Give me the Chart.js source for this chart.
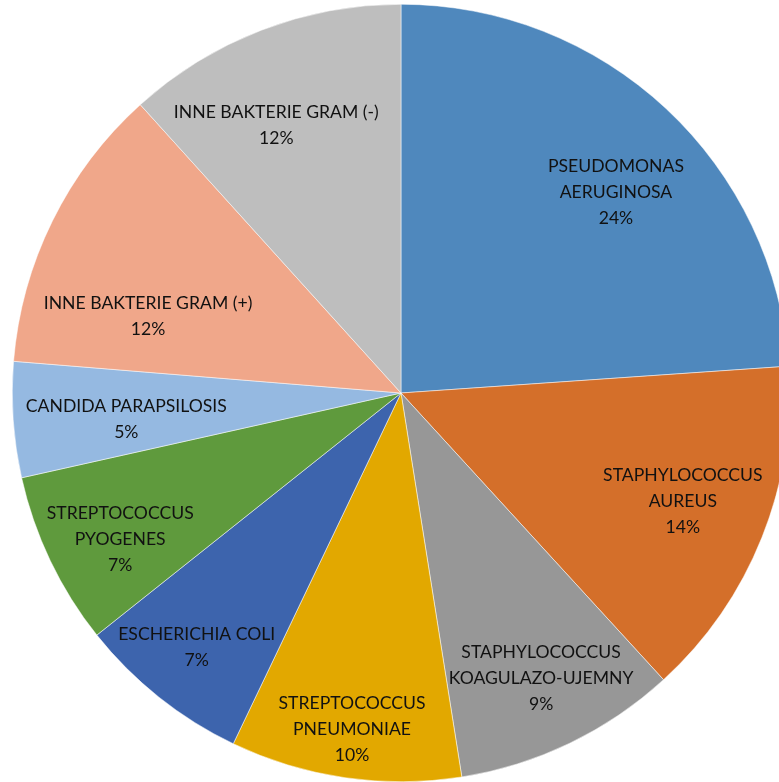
<!DOCTYPE html>
<html>
<head>
<meta charset="utf-8">
<script src="https://cdn.jsdelivr.net/npm/chart.js@4/dist/chart.umd.min.js"></script>
<style>
  html, body { margin: 0; padding: 0; background: #fff; overflow: hidden; }
  #wrap { position: absolute; left: 12px; top: 4px; width: 778px; height: 778px; }
</style>
</head>
<body>
<div id="wrap"><canvas id="chartPie"></canvas></div>
<script>
// Datos del gráfico
const categorias = [
  ['PSEUDOMONAS', 'AERUGINOSA'],
  ['STAPHYLOCOCCUS', 'AUREUS'],
  ['STAPHYLOCOCCUS', 'KOAGULAZO-UJEMNY'],
  ['STREPTOCOCCUS', 'PNEUMONIAE'],
  ['ESCHERICHIA COLI'],
  ['STREPTOCOCCUS', 'PYOGENES'],
  ['CANDIDA PARAPSILOSIS'],
  ['INNE BAKTERIE GRAM (+)'],
  ['INNE BAKTERIE GRAM (-)']
];
const valores = [23.9, 14.3, 9.3, 9.6, 7.2, 7.2, 4.8, 12.0, 11.7];
const colores = ['#4F88BD', '#D46F2A', '#979797', '#E2A800', '#3D64AD', '#5F9A3D', '#95B9E1', '#F0A78A', '#BEBEBE'];

// Ubicación de etiquetas: fracción del radio y giro (grados) respecto al centro del sector
const distEtiqueta = [0.757, 0.777, 0.818, 0.875, 0.84, 0.814, 0.71, 0.68, 0.76];
const giroEtiqueta = [3.9, -0.7, -0.4, 0, 0.2, -1.9, -1.6, -9.4, -3.9];

const etiquetasPlugin = {
  id: 'etiquetas',
  afterDatasetsDraw(chart) {
    const ctx = chart.ctx;
    const meta = chart.getDatasetMeta(0);
    const total = valores.reduce((a, b) => a + b, 0);
    ctx.save();
    ctx.font = '17.6px Lato, "Open Sans", sans-serif';
    ctx.fillStyle = '#111111';
    ctx.textAlign = 'center';
    ctx.textBaseline = 'middle';
    meta.data.forEach((arc, i) => {
      const mid = (arc.startAngle + arc.endAngle) / 2 + giroEtiqueta[i] * Math.PI / 180;
      const r = arc.outerRadius * distEtiqueta[i];
      const x = arc.x + Math.cos(mid) * r;
      const y = arc.y + Math.sin(mid) * r;
      const lineas = [...categorias[i], Math.round(valores[i] / total * 100) + '%'];
      const alto = 26;
      const y0 = y - (lineas.length - 1) * alto / 2;
      lineas.forEach((t, j) => ctx.fillText(t, x, y0 + j * alto));
    });
    ctx.restore();
  }
};

new Chart(document.getElementById('chartPie'), {
  type: 'pie',
  data: {
    labels: categorias.map(c => c.join(' ')),
    datasets: [{
      data: valores,
      backgroundColor: colores,
      borderColor: '#ffffff',
      borderWidth: 0.5
    }]
  },
  options: {
    responsive: true,
    maintainAspectRatio: false,
    animation: false,
    layout: { padding: 0 },
    plugins: {
      legend: { display: false },
      tooltip: { enabled: false }
    }
  },
  plugins: [etiquetasPlugin]
});
</script>
</body>
</html>
